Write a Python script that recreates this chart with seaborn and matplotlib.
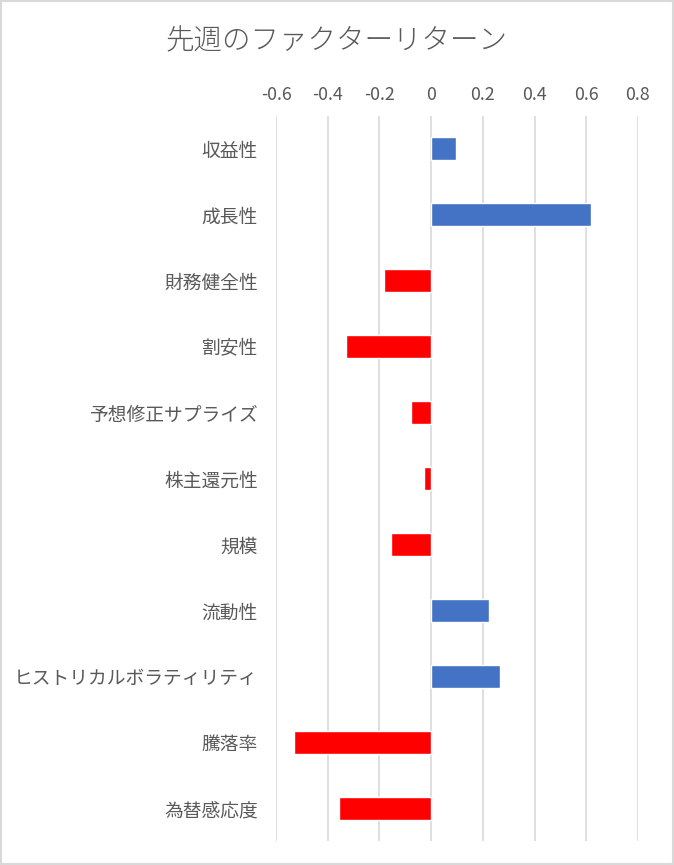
import matplotlib
matplotlib.use("Agg")
import matplotlib.pyplot as plt
import seaborn as sns
import pandas as pd
from matplotlib.patches import Rectangle

categories = ["収益性", "成長性", "財務健全性", "割安性", "予想修正サプライズ", "株主還元性",
              "規模", "流動性", "ヒストリカルボラティリティ", "騰落率", "為替感応度"]
returns = [0.096, 0.62, -0.181, -0.331, -0.077, -0.027, -0.154, 0.224, 0.266, -0.532, -0.358]
xticks = [-0.6, -0.4, -0.2, 0, 0.2, 0.4, 0.6, 0.8]
xtick_labels = ["-0.6", "-0.4", "-0.2", "0", "0.2", "0.4", "0.6", "0.8"]
title = "先週のファクターリターン"

POS = "#4472C4"
NEG = "#FF0000"
TXT = "#595959"
GRID = "#D9D9D9"

sns.set_theme(style="white")
plt.rcParams['font.family'] = ['Noto Sans CJK JP', 'DejaVu Sans']

df = pd.DataFrame({"factor": categories, "ret": returns})
colors = [POS if v >= 0 else NEG for v in returns]

fig = plt.figure(figsize=(6.74, 8.65), dpi=100)
ax = fig.add_axes([276/674, 1-841/865, (638-276)/674, (841-116)/865])

sns.barplot(data=df, x="ret", y="factor", hue="factor", palette=colors,
            order=categories, hue_order=categories, orient="h", width=0.35,
            legend=False, dodge=False, saturation=1, ax=ax)

ax.set_xlim(-0.6, 0.8)
ax.set_ylim(len(categories) - 0.5, -0.5)
ax.set_xticks(xticks)
ax.set_xticklabels(xtick_labels)
ax.xaxis.tick_top()
ax.tick_params(axis='x', length=0, pad=9, labelsize=12.8, colors=TXT)
ax.tick_params(axis='y', length=0, pad=13, labelsize=13.5, colors=TXT)
ax.set_xlabel("")
ax.set_ylabel("")
for s in ax.spines.values():
    s.set_visible(False)
ax.grid(axis='x', color=GRID, linewidth=1.2)
ax.set_axisbelow(True)

fig.text(0.4993, 1-41/865, title, ha='center', va='center', fontsize=20.5,
         color=TXT, fontweight='light')

fig.patches.append(Rectangle((0.0015, 0.0015), 0.997, 0.997, transform=fig.transFigure,
                             fill=False, edgecolor=GRID, linewidth=1.5))

fig.savefig("out.png", dpi=100)
